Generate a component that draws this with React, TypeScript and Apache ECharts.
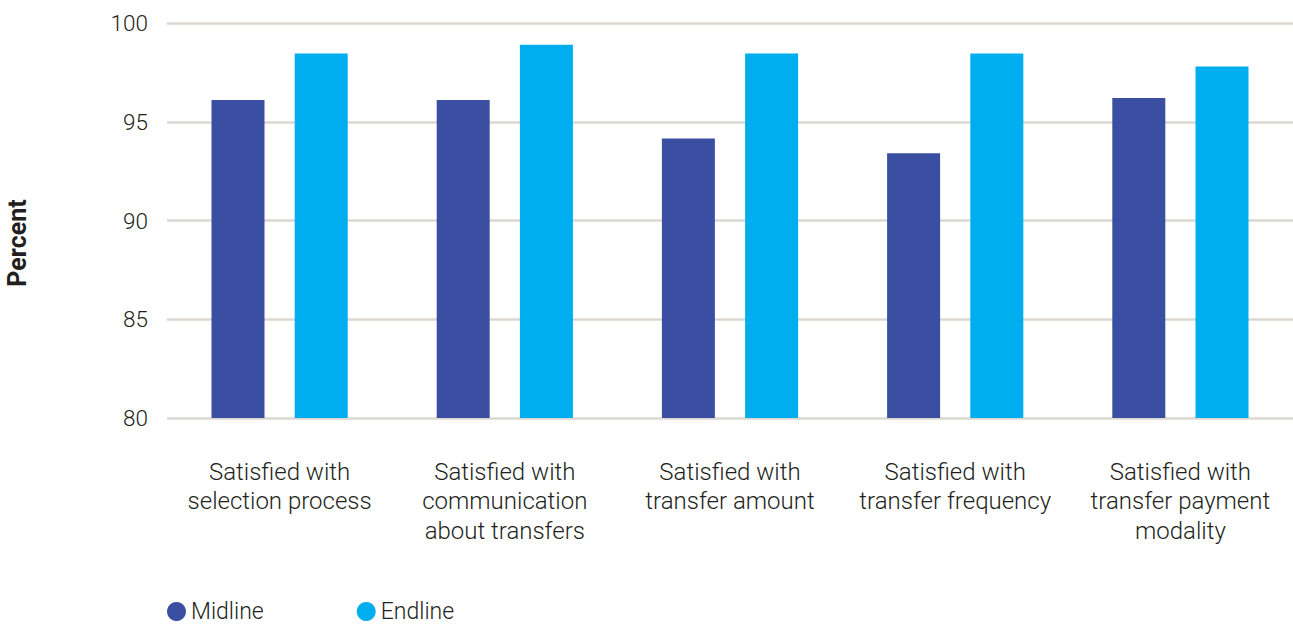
import React, { useEffect, useRef } from "react";
import * as echarts from "echarts";

const categories = [
  "Satisfied with\nselection process",
  "Satisfied with\ncommunication\nabout transfers",
  "Satisfied with\ntransfer amount",
  "Satisfied with\ntransfer frequency",
  "Satisfied with\ntransfer payment\nmodality",
];
const midline = [96.1, 96.1, 94.15, 93.4, 96.2];
const endline = [98.45, 98.9, 98.45, 98.45, 97.8];
const yTicks = { min: 80, max: 100, interval: 5 };
const yAxisTitle = "Percent";

const FONT = "Roboto";
const TEXT = "#231f20";

export default function App() {
  const ref = useRef<HTMLDivElement>(null);
  useEffect(() => {
    if (!ref.current) return;
    const chart = echarts.init(ref.current, null, { renderer: "svg" });
    chart.setOption({
      animation: false,
      textStyle: { fontFamily: FONT },
      grid: {
        left: 167,
        right: 0,
        top: 23,
        bottom: 208,
        containLabel: false,
        outerBoundsMode: "none",
      },
      graphic: [
        {
          type: "text",
          x: 17,
          y: 243,
          rotation: Math.PI / 2,
          style: {
            text: yAxisTitle,
            fontFamily: FONT,
            fontSize: 25,
            fontWeight: "bold",
            fill: TEXT,
            align: "center",
            verticalAlign: "middle",
          },
        },
      ],
      legend: {
        left: 167,
        top: 600,
        padding: 0,
        icon: "circle",
        itemWidth: 19,
        itemHeight: 19,
        itemGap: 93,
        textStyle: { fontFamily: FONT, fontSize: 23, color: TEXT, fontWeight: 300 },
        data: ["Midline", "Endline"],
      },
      xAxis: {
        type: "category",
        data: categories,
        axisLine: { show: false },
        axisTick: { show: false },
        axisLabel: {
          fontFamily: FONT,
          fontSize: 24,
          lineHeight: 29.5,
          color: TEXT,
          fontWeight: 300,
          margin: 39,
          interval: 0,
          align: "center",
        },
      },
      yAxis: {
        type: "value",
        min: yTicks.min,
        max: yTicks.max,
        interval: yTicks.interval,
        axisLine: { show: false },
        axisTick: { show: false },
        axisLabel: { fontFamily: FONT, fontSize: 22.5, color: TEXT, fontWeight: 300, margin: 19 },
        splitLine: { lineStyle: { color: "#ddd7d1", width: 2.5 } },
      },
      series: [
        {
          name: "Midline",
          type: "bar",
          data: midline,
          barWidth: 53,
          barGap: "57%",
          itemStyle: { color: "#3a4fa2" },
        },
        {
          name: "Endline",
          type: "bar",
          data: endline,
          barWidth: 53,
          barGap: "57%",
          itemStyle: { color: "#00aeef" },
        },
      ],
    });
    return () => chart.dispose();
  }, []);
  return (
    <div
      ref={ref}
      style={{ position: "fixed", left: 0, top: 0, width: 1293, height: 626, background: "#fff" }}
    />
  );
}
